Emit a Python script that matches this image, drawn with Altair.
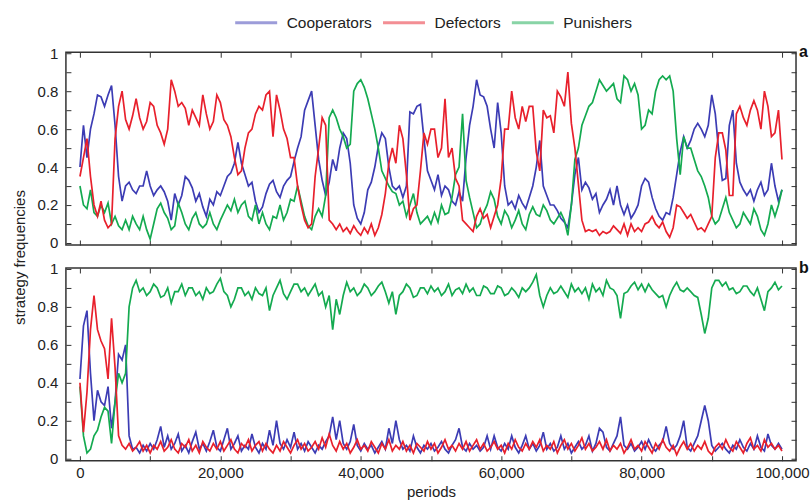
import altair as alt
import pandas as pd

# ---------------- data (every 500 periods) ----------------
periods = list(range(0, 100001, 500))
strategies = ["Cooperators", "Defectors", "Punishers"]
colors = ["#3c3cb4", "#e8202c", "#14aa50"]

# panel a
coop_a = [
    0.40, 0.62, 0.45, 0.60, 0.68, 0.78, 0.77, 0.72, 0.78, 0.83,
    0.62, 0.35, 0.22, 0.30, 0.32, 0.28, 0.26, 0.30, 0.30, 0.38,
    0.30, 0.25, 0.28, 0.30, 0.27, 0.22, 0.12, 0.26, 0.20, 0.25,
    0.35, 0.33, 0.29, 0.22, 0.26, 0.19, 0.14, 0.23, 0.20, 0.27,
    0.25, 0.30, 0.35, 0.37, 0.42, 0.53, 0.42, 0.36, 0.30, 0.32,
    0.22, 0.16, 0.19, 0.26, 0.31, 0.33, 0.27, 0.24, 0.30, 0.33,
    0.35, 0.43, 0.50, 0.56, 0.70, 0.75, 0.80, 0.62, 0.44, 0.33,
    0.25, 0.32, 0.44, 0.38, 0.50, 0.58, 0.55, 0.42, 0.20, 0.13,
    0.10, 0.16, 0.28, 0.32, 0.40, 0.51, 0.58, 0.55, 0.40, 0.30,
    0.28, 0.30, 0.24, 0.30, 0.69, 0.68, 0.72, 0.73, 0.55, 0.38,
    0.33, 0.28, 0.36, 0.25, 0.30, 0.28, 0.22, 0.20, 0.27, 0.22,
    0.45, 0.62, 0.72, 0.86, 0.78, 0.77, 0.72, 0.60, 0.50, 0.74,
    0.58, 0.30, 0.20, 0.22, 0.18, 0.25, 0.21, 0.18, 0.24, 0.30,
    0.40, 0.54, 0.30, 0.25, 0.20, 0.20, 0.17, 0.13, 0.11, 0.08,
    0.20, 0.36, 0.45, 0.28, 0.32, 0.29, 0.23, 0.26, 0.16, 0.20,
    0.23, 0.28, 0.20, 0.30, 0.20, 0.15, 0.20, 0.13, 0.16, 0.20,
    0.30, 0.34, 0.32, 0.24, 0.18, 0.14, 0.12, 0.16, 0.15, 0.24,
    0.36, 0.48, 0.56, 0.50, 0.54, 0.60, 0.63, 0.60, 0.56, 0.62,
    0.78, 0.68, 0.48, 0.33, 0.34, 0.62, 0.70, 0.42, 0.32, 0.28,
    0.25, 0.28, 0.22, 0.28, 0.32, 0.25, 0.28, 0.42, 0.30, 0.22,
    0.28,
]
defect_a = [
    0.35, 0.45, 0.55, 0.35, 0.20, 0.14, 0.22, 0.12, 0.08, 0.10,
    0.55, 0.72, 0.80, 0.65, 0.60, 0.67, 0.76, 0.66, 0.60, 0.64,
    0.74, 0.72, 0.62, 0.58, 0.52, 0.60, 0.86, 0.80, 0.72, 0.74,
    0.71, 0.62, 0.70, 0.66, 0.62, 0.78, 0.68, 0.60, 0.64, 0.78,
    0.74, 0.65, 0.62, 0.56, 0.45, 0.36, 0.38, 0.50, 0.58, 0.60,
    0.68, 0.72, 0.70, 0.78, 0.80, 0.56, 0.78, 0.70, 0.60, 0.55,
    0.45, 0.45, 0.30, 0.20, 0.12, 0.08, 0.10, 0.35, 0.50, 0.66,
    0.62, 0.12, 0.10, 0.07, 0.10, 0.06, 0.08, 0.05, 0.09, 0.06,
    0.04, 0.08, 0.05, 0.10, 0.04, 0.08, 0.15, 0.26, 0.42, 0.50,
    0.42, 0.62, 0.55, 0.36, 0.12, 0.18, 0.20, 0.38, 0.58, 0.52,
    0.60, 0.60, 0.45, 0.50, 0.76, 0.45, 0.50, 0.34, 0.30, 0.12,
    0.10, 0.08, 0.06, 0.14, 0.18, 0.13, 0.15, 0.08, 0.14, 0.20,
    0.34, 0.60, 0.60, 0.80, 0.66, 0.60, 0.72, 0.64, 0.72, 0.72,
    0.48, 0.38, 0.70, 0.66, 0.67, 0.58, 0.80, 0.77, 0.72, 0.90,
    0.63, 0.50, 0.31, 0.12, 0.06, 0.07, 0.06, 0.07, 0.04, 0.06,
    0.05, 0.06, 0.09, 0.07, 0.05, 0.10, 0.04, 0.10, 0.06, 0.08,
    0.06, 0.10, 0.11, 0.14, 0.10, 0.08, 0.11, 0.06, 0.03, 0.08,
    0.20, 0.19, 0.16, 0.13, 0.15, 0.11, 0.07, 0.08, 0.06, 0.10,
    0.14, 0.45, 0.58, 0.58, 0.49, 0.25, 0.25, 0.68, 0.72, 0.66,
    0.62, 0.70, 0.75, 0.70, 0.60, 0.80, 0.72, 0.56, 0.58, 0.70,
    0.44,
]
punish_a = [
    0.30, 0.20, 0.18, 0.28, 0.16, 0.14, 0.20, 0.16, 0.21, 0.10,
    0.14, 0.09, 0.07, 0.12, 0.07, 0.14, 0.10, 0.07, 0.14, 0.07,
    0.02, 0.10, 0.18, 0.21, 0.16, 0.13, 0.07, 0.09, 0.21, 0.16,
    0.10, 0.07, 0.13, 0.16, 0.10, 0.08, 0.10, 0.16, 0.10, 0.07,
    0.12, 0.16, 0.20, 0.17, 0.23, 0.16, 0.20, 0.22, 0.14, 0.12,
    0.20, 0.10, 0.16, 0.10, 0.07, 0.14, 0.13, 0.20, 0.12, 0.16,
    0.23, 0.22, 0.30, 0.22, 0.14, 0.09, 0.07, 0.14, 0.18, 0.14,
    0.25, 0.66, 0.70, 0.66, 0.60, 0.56, 0.50, 0.52, 0.80, 0.84,
    0.86, 0.82, 0.76, 0.68, 0.60, 0.50, 0.38, 0.34, 0.30, 0.27,
    0.26, 0.20, 0.22, 0.14, 0.20, 0.26, 0.16, 0.10, 0.12, 0.14,
    0.10, 0.16, 0.11, 0.20, 0.15, 0.16, 0.24, 0.36, 0.40, 0.68,
    0.33, 0.24, 0.16, 0.08, 0.10, 0.16, 0.20, 0.27, 0.23, 0.14,
    0.10, 0.17, 0.14, 0.08, 0.12, 0.17, 0.10, 0.07, 0.15, 0.19,
    0.15, 0.14, 0.20, 0.17, 0.12, 0.10, 0.13, 0.16, 0.12, 0.04,
    0.20, 0.44, 0.50, 0.62, 0.67, 0.72, 0.74, 0.80, 0.86, 0.83,
    0.80, 0.82, 0.84, 0.76, 0.74, 0.88, 0.86, 0.80, 0.84, 0.78,
    0.60, 0.62, 0.70, 0.68, 0.80, 0.86, 0.88, 0.86, 0.88, 0.80,
    0.55, 0.36, 0.56, 0.50, 0.50, 0.44, 0.38, 0.35, 0.30, 0.24,
    0.14, 0.10, 0.12, 0.18, 0.24, 0.16, 0.12, 0.08, 0.10, 0.16,
    0.13, 0.10, 0.18, 0.14, 0.07, 0.04, 0.10, 0.20, 0.14, 0.20,
    0.28,
]

# panel b
coop_b = [
    0.42, 0.70, 0.78, 0.45, 0.20, 0.36, 0.30, 0.28, 0.38, 0.16,
    0.30, 0.55, 0.52, 0.60, 0.12, 0.05, 0.06, 0.03, 0.07, 0.04,
    0.08, 0.05, 0.10, 0.17, 0.06, 0.12, 0.05, 0.08, 0.13, 0.04,
    0.07, 0.03, 0.09, 0.14, 0.05, 0.08, 0.04, 0.09, 0.15, 0.06,
    0.04, 0.10, 0.16, 0.05, 0.08, 0.12, 0.04, 0.07, 0.05, 0.13,
    0.06, 0.03, 0.08, 0.05, 0.15, 0.07, 0.20, 0.08, 0.05, 0.10,
    0.06, 0.14, 0.05, 0.08, 0.04, 0.09, 0.06, 0.03, 0.07, 0.05,
    0.09, 0.12, 0.22, 0.10, 0.20, 0.08, 0.05, 0.09, 0.18, 0.07,
    0.04, 0.08, 0.05, 0.07, 0.03, 0.06, 0.09, 0.05, 0.16, 0.08,
    0.20, 0.10, 0.05, 0.07, 0.04, 0.12, 0.06, 0.03, 0.07, 0.05,
    0.08, 0.04, 0.06, 0.09, 0.05, 0.03, 0.07, 0.10, 0.16, 0.06,
    0.04, 0.08, 0.05, 0.07, 0.04, 0.06, 0.12, 0.05, 0.12, 0.06,
    0.04, 0.08, 0.05, 0.12, 0.06, 0.03, 0.07, 0.12, 0.05, 0.08,
    0.04, 0.07, 0.14, 0.05, 0.08, 0.04, 0.06, 0.12, 0.05, 0.08,
    0.03, 0.06, 0.09, 0.05, 0.07, 0.12, 0.04, 0.08, 0.16, 0.14,
    0.06, 0.04, 0.08, 0.12, 0.22, 0.07, 0.05, 0.08, 0.04, 0.06,
    0.09, 0.05, 0.10, 0.06, 0.04, 0.07, 0.09, 0.17, 0.08, 0.05,
    0.07, 0.12, 0.20, 0.06, 0.04, 0.08, 0.12, 0.20, 0.28, 0.20,
    0.07, 0.04, 0.06, 0.08, 0.05, 0.03, 0.07, 0.05, 0.10, 0.06,
    0.04, 0.08, 0.05, 0.12, 0.06, 0.04, 0.13, 0.07, 0.05, 0.08,
    0.05,
]
defect_b = [
    0.40, 0.14, 0.35, 0.68, 0.86, 0.68, 0.62, 0.58, 0.42, 0.74,
    0.48, 0.12, 0.07, 0.05, 0.08, 0.04, 0.06, 0.09, 0.04, 0.07,
    0.03, 0.07, 0.05, 0.09, 0.04, 0.06, 0.10, 0.05, 0.03, 0.08,
    0.06, 0.10, 0.04, 0.07, 0.03, 0.09, 0.06, 0.04, 0.08, 0.05,
    0.09, 0.04, 0.07, 0.10, 0.05, 0.03, 0.08, 0.06, 0.10, 0.04,
    0.07, 0.09, 0.04, 0.08, 0.05, 0.03, 0.07, 0.04, 0.09, 0.06,
    0.03, 0.07, 0.10, 0.05, 0.08, 0.04, 0.06, 0.09, 0.05, 0.11,
    0.06, 0.13, 0.07, 0.04, 0.09, 0.05, 0.08, 0.03, 0.06, 0.10,
    0.05, 0.07, 0.04, 0.09, 0.06, 0.03, 0.08, 0.05, 0.10, 0.04,
    0.07, 0.05, 0.09, 0.04, 0.07, 0.03, 0.08, 0.06, 0.04, 0.09,
    0.05, 0.08, 0.03, 0.06, 0.10, 0.05, 0.07, 0.04, 0.08, 0.05,
    0.09, 0.04, 0.07, 0.10, 0.05, 0.08, 0.04, 0.06, 0.09, 0.05,
    0.07, 0.03, 0.08, 0.05, 0.10, 0.06, 0.04, 0.08, 0.05, 0.09,
    0.06, 0.10, 0.04, 0.07, 0.05, 0.09, 0.03, 0.07, 0.10, 0.05,
    0.08, 0.04, 0.07, 0.11, 0.05, 0.08, 0.04, 0.06, 0.09, 0.05,
    0.10, 0.04, 0.07, 0.05, 0.08, 0.03, 0.06, 0.10, 0.05, 0.07,
    0.04, 0.09, 0.06, 0.03, 0.08, 0.05, 0.10, 0.06, 0.04, 0.07,
    0.02, 0.06, 0.09, 0.05, 0.08, 0.04, 0.07, 0.05, 0.09, 0.04,
    0.02, 0.06, 0.08, 0.05, 0.10, 0.06, 0.04, 0.09, 0.06, 0.03,
    0.08, 0.11, 0.05, 0.07, 0.04, 0.10, 0.06, 0.08, 0.05, 0.07,
    0.04,
]
punish_b = [
    0.38, 0.12, 0.03, 0.05, 0.12, 0.15, 0.22, 0.27, 0.25, 0.08,
    0.30, 0.45, 0.40, 0.45, 0.80, 0.90, 0.94, 0.88, 0.90, 0.86,
    0.88, 0.92, 0.90, 0.85, 0.86, 0.90, 0.82, 0.88, 0.88, 0.92,
    0.86, 0.90, 0.90, 0.86, 0.88, 0.84, 0.90, 0.87, 0.88, 0.92,
    0.95, 0.88, 0.86, 0.80, 0.84, 0.90, 0.90, 0.86, 0.88, 0.84,
    0.90, 0.87, 0.86, 0.90, 0.78, 0.86, 0.90, 0.94, 0.87, 0.84,
    0.88, 0.92, 0.92, 0.88, 0.90, 0.86, 0.89, 0.92, 0.86, 0.88,
    0.80, 0.86, 0.68, 0.84, 0.76, 0.86, 0.93, 0.88, 0.90, 0.86,
    0.88, 0.92, 0.90, 0.86, 0.88, 0.91, 0.93, 0.88, 0.82, 0.88,
    0.76, 0.86, 0.88, 0.92, 0.90, 0.85, 0.86, 0.90, 0.90, 0.87,
    0.91, 0.88, 0.90, 0.86, 0.88, 0.92, 0.86, 0.89, 0.90, 0.87,
    0.92, 0.88, 0.90, 0.86, 0.86, 0.91, 0.90, 0.87, 0.87, 0.91,
    0.90, 0.86, 0.87, 0.90, 0.88, 0.85, 0.90, 0.88, 0.90, 0.93,
    0.97, 0.86, 0.80, 0.86, 0.90, 0.87, 0.88, 0.91, 0.88, 0.85,
    0.92, 0.88, 0.90, 0.87, 0.90, 0.84, 0.92, 0.88, 0.90, 0.86,
    0.94, 0.90, 0.89, 0.86, 0.74, 0.87, 0.88, 0.91, 0.93, 0.89,
    0.92, 0.88, 0.92, 0.89, 0.87, 0.85, 0.86, 0.80, 0.86, 0.90,
    0.93, 0.89, 0.88, 0.90, 0.88, 0.86, 0.85, 0.76, 0.66, 0.74,
    0.90, 0.94, 0.94, 0.91, 0.93, 0.89, 0.90, 0.87, 0.88, 0.91,
    0.91, 0.88, 0.86, 0.90, 0.84, 0.78, 0.88, 0.90, 0.93, 0.89,
    0.91,
]

y_ticks = [round(i * 0.1, 1) for i in range(11)]
x_ticks = list(range(0, 100001, 10000))


def frame(series):
    rows = []
    for name, vals in zip(strategies, series):
        for p, v in zip(periods, vals):
            rows.append({"period": p, "value": v, "strategy": name})
    return pd.DataFrame(rows)


df_a = frame([coop_a, defect_a, punish_a])
df_b = frame([coop_b, defect_b, punish_b])

W, H = 731, 193
FONT = "Liberation Sans"
xscale = alt.Scale(domain=[-2000, 102000], nice=False, zero=False)
yscale = alt.Scale(domain=[-0.011, 1.005], nice=False, zero=False)

legend = alt.Legend(
    title=None, orient="none", legendX=168, legendY=-52, direction="horizontal",
    symbolType="stroke", symbolSize=1764, symbolStrokeWidth=3, symbolOpacity=0.5,
    labelFontSize=15.5, labelFont=FONT, labelColor="#222", labelOffset=8,
    columnPadding=4, padding=0,
)
color = alt.Color("strategy:N", scale=alt.Scale(domain=strategies, range=colors), legend=legend)

YLAB = "round(datum.value*10) % 2 == 0 ? format(datum.value, '~g') : ''"
XLAB = "round(datum.value/10000) % 2 == 0 ? format(datum.value, ',') : ''"

common = dict(domain=False, grid=False, offset=-5, tickSize=5, tickColor="#333",
              tickWidth=1, labelFont=FONT, labelFontSize=15, labelColor="#222")


def panel(df, letter, bottom_panel):
    if bottom_panel:
        left = alt.Axis(orient="left", values=y_ticks, labelExpr=YLAB, labelPadding=8,
                        title="strategy frequencies", titleFont=FONT, titleFontSize=15,
                        titleFontWeight="normal", titleColor="#222", titleAngle=270,
                        titleX=-51, titleY=-11, titleAlign="center", titleBaseline="middle",
                        **common)
        bottom = alt.Axis(orient="bottom", values=x_ticks, labelExpr=XLAB, labelPadding=5,
                          title="periods", titleFont=FONT, titleFontSize=15,
                          titleFontWeight="normal", titleColor="#222", titlePadding=4,
                          **common)
    else:
        left = alt.Axis(orient="left", values=y_ticks, labelExpr=YLAB, labelPadding=8,
                        title=None, **common)
        bottom = alt.Axis(orient="bottom", values=x_ticks, labels=False, title=None, **common)
    right = alt.Axis(orient="right", values=y_ticks, labels=False, title=None, **common)
    top = alt.Axis(orient="top", values=x_ticks, labels=False, title=None, **common)

    base = alt.Chart(df)
    l_c = base.transform_filter(alt.datum.strategy == "Cooperators").mark_line(
        strokeWidth=1.7).encode(
        x=alt.X("period:Q", scale=xscale, axis=bottom),
        y=alt.Y("value:Q", scale=yscale, axis=left),
        color=color,
    )
    l_p = base.transform_filter(alt.datum.strategy == "Punishers").mark_line(
        strokeWidth=1.7).encode(
        x=alt.X("period:Q", scale=xscale, axis=top),
        y=alt.Y("value:Q", scale=yscale, axis=right),
        color=color,
    )
    l_d = base.transform_filter(alt.datum.strategy == "Defectors").mark_line(
        strokeWidth=1.7).encode(
        x=alt.X("period:Q", scale=xscale, axis=None),
        y=alt.Y("value:Q", scale=yscale, axis=None),
        color=color,
    )
    tag = alt.Chart(pd.DataFrame({"t": [letter]})).mark_text(
        font=FONT, fontSize=16, fontWeight="bold", align="left", baseline="middle",
        color="#111").encode(text="t:N", x=alt.value(W + 3), y=alt.value(0))
    return alt.layer(l_c, l_p, l_d, tag).resolve_axis(
        x="independent", y="independent").properties(width=W, height=H)


chart = alt.vconcat(
    panel(df_a, "a", False), panel(df_b, "b", True), spacing=23, bounds="flush"
).configure_view(stroke="#333", strokeWidth=1.5).properties(
    padding={"left": 12, "top": 0, "right": 0, "bottom": 5},
    background="white",
)

chart.save("out.html", embed_options={"renderer": "svg", "actions": False})
